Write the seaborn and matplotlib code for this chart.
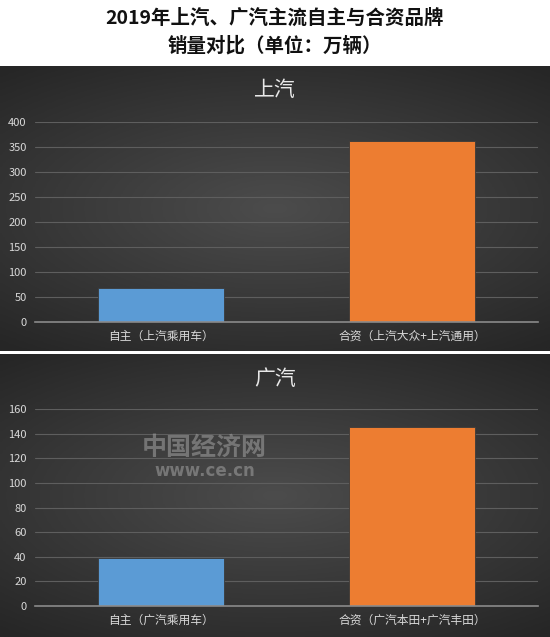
import numpy as np
import pandas as pd
import seaborn as sns
from matplotlib import pyplot as plt

# data (万辆)
saic_labels = ["自主（上汽乘用车）", "合资（上汽大众+上汽通用）"]
saic_sales = [67.4, 361.0]
gac_labels = ["自主（广汽乘用车）", "合资（广汽本田+广汽丰田）"]
gac_sales = [38.6, 145.3]
bar_colors = ["#5b9bd5", "#ed7d31"]

sns.set_theme(style="dark")
plt.rcParams['font.family'] = ['Noto Sans CJK SC', 'DejaVu Sans']

fig = plt.figure(figsize=(5.5, 6.37), dpi=100)
fig.patch.set_facecolor("white")

# dark gradient panels behind each chart
yy, xx = np.mgrid[-1:1:200j, -1:1:200j]
glow = np.sqrt((xx * 0.9) ** 2 + (yy * 1.1) ** 2)
for top_px, bot_px in [(66, 351), (354, 637)]:
    bg = fig.add_axes([0, 1 - bot_px / 637, 1, (bot_px - top_px) / 637])
    bg.imshow(glow, cmap=sns.blend_palette(["#4c4c4c", "#262626"], as_cmap=True),
              aspect="auto", vmin=0, vmax=1.4)
    bg.set_axis_off()

fig.text(0.5, 0.972, "2019年上汽、广汽主流自主与合资品牌", ha="center", va="center",
         fontsize=14, fontweight="bold", color="#111111")
fig.text(0.5, 0.929, "销量对比（单位：万辆）", ha="center", va="center",
         fontsize=14, fontweight="bold", color="#111111")


def draw(ax, labels, values, ymax, step, title, title_y):
    df = pd.DataFrame({"cat": labels, "val": values})
    sns.barplot(data=df, x="cat", y="val", hue="cat", palette=bar_colors,
                saturation=1, width=0.5, legend=False, ax=ax,
                edgecolor="#3a3a3a", linewidth=0.6)
    ax.set_facecolor("none")
    ax.set_ylim(0, ymax)
    ax.set_yticks(np.arange(0, ymax + 1, step))
    ax.set_xlabel("")
    ax.set_ylabel("")
    ax.grid(axis="y", color="#5e5e5e", linewidth=0.8)
    ax.set_axisbelow(True)
    for s in ["top", "right", "left"]:
        ax.spines[s].set_visible(False)
    ax.spines["bottom"].set_color("#8a8a8a")
    ax.spines["bottom"].set_linewidth(1.2)
    ax.tick_params(axis="y", colors="#d9d9d9", labelsize=8, length=0, pad=6)
    ax.tick_params(axis="x", colors="#d9d9d9", labelsize=8.5, length=0, pad=6)
    fig.text(0.5, title_y, title, ha="center", va="center", fontsize=15,
             color="#e8e8e8")


ax1 = fig.add_axes([35 / 550, 0.495, 503 / 550, 0.314])
draw(ax1, saic_labels, saic_sales, 400, 50, "上汽", 1 - 90 / 637)

ax2 = fig.add_axes([35 / 550, 0.0491, 503 / 550, 0.3083])
draw(ax2, gac_labels, gac_sales, 160, 20, "广汽", 1 - 379 / 637)

# watermark
fig.text(0.372, 1 - 448 / 637, "中国经济网", ha="center", va="center", fontsize=18,
         fontweight="bold", color="#9a9a9a", alpha=0.6)
fig.text(0.372, 1 - 471 / 637, "www.ce.cn", ha="center", va="center", fontsize=12,
         fontweight="bold", color="#9a9a9a", alpha=0.6, family=["DejaVu Sans"])

fig.savefig("out.png", dpi=100)
